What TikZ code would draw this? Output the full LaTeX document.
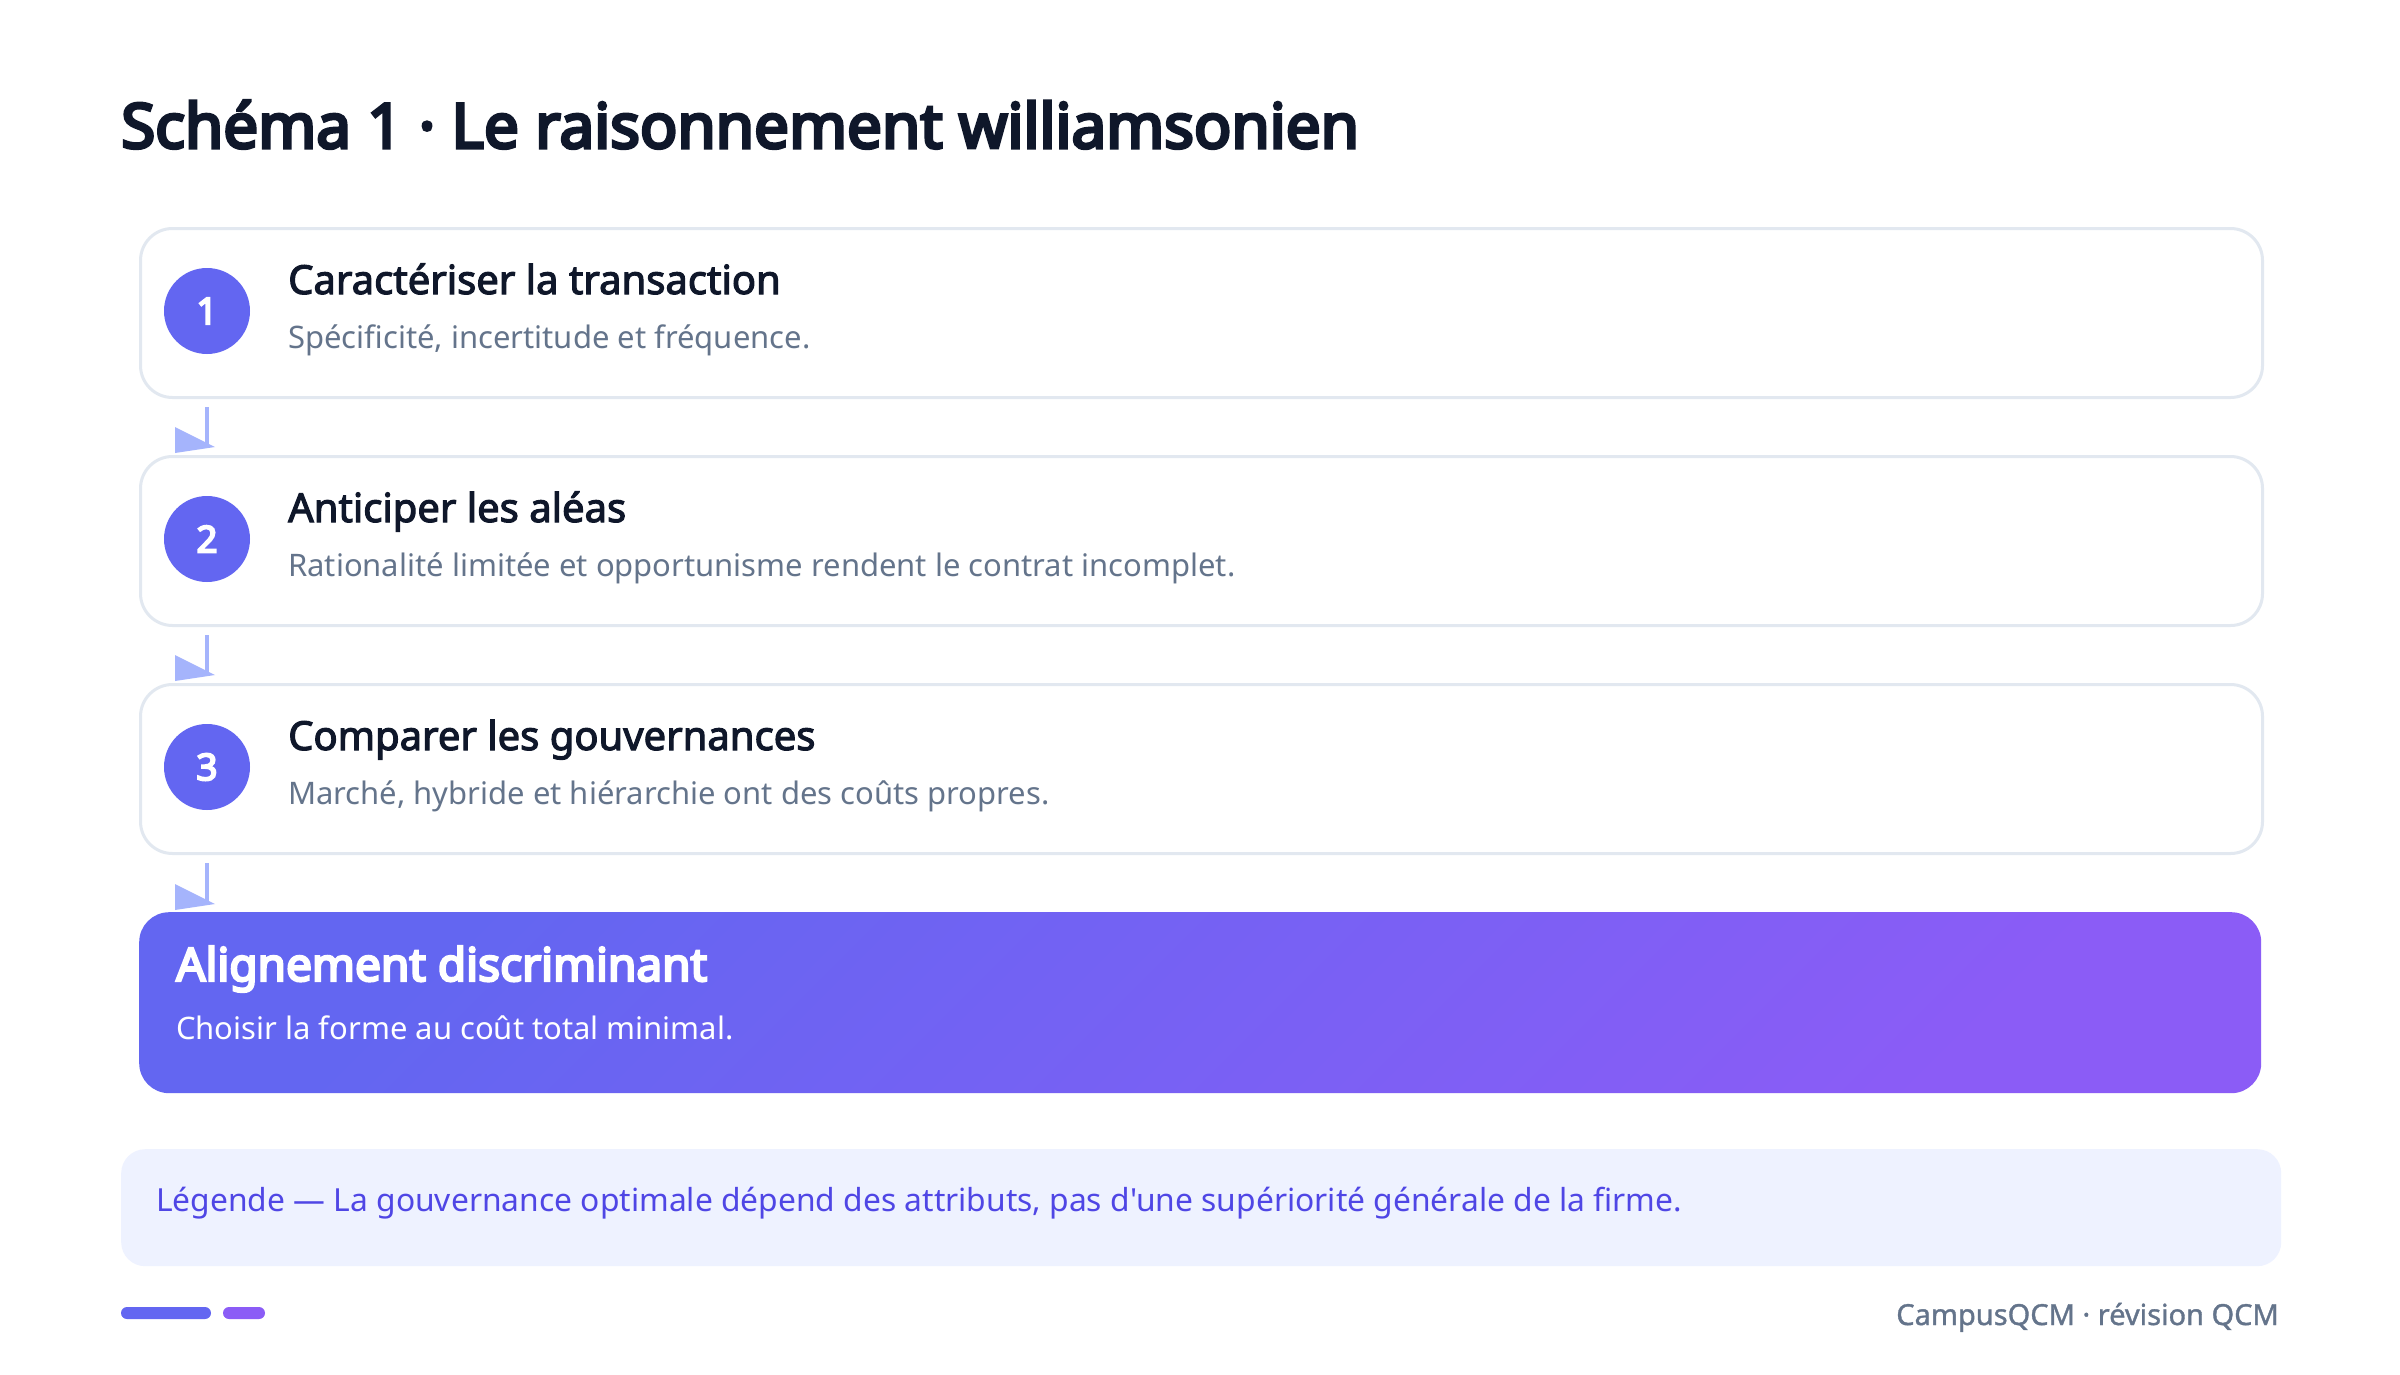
\documentclass[tikz,border=0pt]{standalone}
\usepackage{fontspec}
\setmainfont{Noto Sans}
\newfontfamily\plainf{Noto Sans}
\newfontfamily\heavyf{Noto Sans}[FakeBold=5]
\newfontfamily\boldf{Noto Sans}[FakeBold=2.8]
\newfontfamily\semif{Noto Sans}[FakeBold=1.2]
\definecolor{ink}{HTML}{0F172A}
\definecolor{muted}{HTML}{64748B}
\definecolor{indigo}{HTML}{6366F1}
\definecolor{violet}{HTML}{8B5CF6}
\definecolor{edge}{HTML}{E2E8F0}
\definecolor{arrowc}{HTML}{A5B4FC}
\definecolor{legbg}{HTML}{EEF2FF}
\definecolor{legtx}{HTML}{4F46E5}
\newcommand{\fs}[1]{\fontsize{#1}{#1}\selectfont}
\tikzset{
  stepbox/.style={draw=edge, line width=3pt, fill=white, rounded corners=32pt,
    minimum width=2122pt, minimum height=169pt, anchor=north west, inner sep=0pt},
  finalbox/.style={rounded corners=30pt, left color=indigo, right color=violet, shading angle=45,
    minimum width=2122pt, minimum height=181pt, anchor=north west, inner sep=0pt},
  numc/.style={circle, fill=indigo, minimum size=86pt, inner sep=0pt, text=white, font=\heavyf\fs{37}},
  steptitle/.style={anchor=base west, inner sep=0pt, text=ink, font=\boldf\fs{40}},
  stepsub/.style={anchor=base west, inner sep=0pt, text=muted, font=\plainf\fs{31}},
  conn/.style={draw=arrowc, line width=4pt},
  tip/.style={fill=arrowc},
}
\begin{document}
\begin{tikzpicture}[x=1pt,y=-1pt]
\useasboundingbox (0,0) rectangle (2400,1375);
\fill[white] (0,0) rectangle (2400,1375);

\node[anchor=base west, inner sep=0pt, text=ink, font=\heavyf\fs{62}] (title) at (121,148) {Schéma 1 · Le raisonnement williamsonien};

\node[stepbox] (b1) at (139,227) {};
\node[stepbox] (b2) at (139,455) {};
\node[stepbox] (b3) at (139,683) {};
\node[finalbox] (b4) at (139,912) {};

\node[numc] (n1) at (207,311) {1};
\node[numc] (n2) at (207,539) {2};
\node[numc] (n3) at (207,767) {3};

\node[steptitle] (t1) at (288,294) {Caractériser la transaction};
\node[stepsub] (s1) at (288,348) {Spécificité, incertitude et fréquence.};
\node[steptitle] (t2) at (288,522) {Anticiper les aléas};
\node[stepsub] (s2) at (288,576) {Rationalité limitée et opportunisme rendent le contrat incomplet.};
\node[steptitle] (t3) at (288,750) {Comparer les gouvernances};
\node[stepsub] (s3) at (288,804) {Marché, hybride et hiérarchie ont des coûts propres.};

\node[anchor=base west, inner sep=0pt, text=white, font=\heavyf\fs{46}] (t4) at (176,981) {Alignement discriminant};
\node[anchor=base west, inner sep=0pt, text=white, font=\plainf\fs{31}] (s4) at (176,1039) {Choisir la forme au coût total minimal.};

% connectors
\foreach \a/\b in {b1/b2, b2/b3, b3/b4}{
  \draw[conn] ([yshift=-8pt]\a.south -| n1) -- ([yshift=10pt]\b.north -| n1);
  \fill[tip] ([shift={(-32pt,28pt)}]\b.north -| n1) -- ([shift={(8pt,8pt)}]\b.north -| n1) -- ([shift={(-32pt,2pt)}]\b.north -| n1) -- cycle;
}

% legend
\node[fill=legbg, rounded corners=24pt, minimum width=2160pt, minimum height=117pt, anchor=north west, inner sep=0pt] (leg) at (121,1149) {};
\node[anchor=base west, inner sep=0pt, text=legtx, font=\plainf\fs{31.8}] (legt) at (156,1211) {Légende — La gouvernance optimale dépend des attributs, pas d'une supériorité générale de la firme.};

% footer
\fill[indigo, rounded corners=6pt] (121,1307) rectangle (211,1319);
\fill[violet, rounded corners=6pt] (223,1307) rectangle (265,1319);
\node[anchor=base east, inner sep=0pt, text=muted, font=\semif\fs{29}] (foot) at (2279,1325) {CampusQCM · révision QCM};
\end{tikzpicture}
\end{document}
